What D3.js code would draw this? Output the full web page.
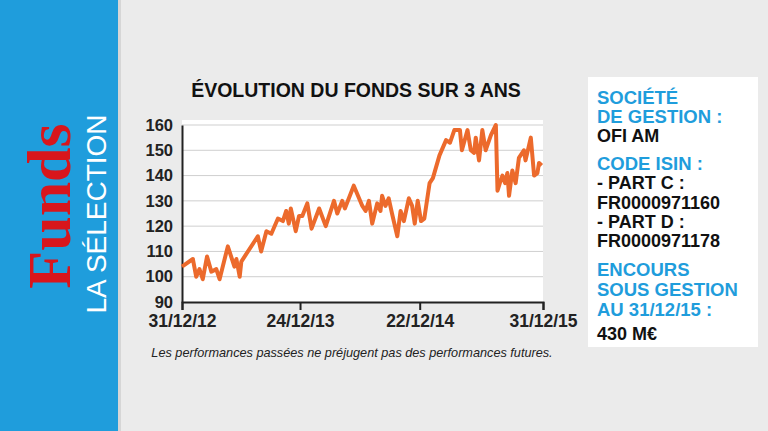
<!DOCTYPE html><html><head><meta charset="utf-8"><script src="https://cdn.jsdelivr.net/npm/d3@7"></script>
<style>body{margin:0;background:#ebebeb}svg{display:block}</style></head><body><svg id="c" width="768" height="431"></svg>
<script>
const dayOffsets=[0,33,43,53,63,76,89,104,114,139,159,165,175,180,230,240,256,271,291,306,316,324,330,345,355,365,380,393,416,436,461,471,486,494,521,547,557,567,577,592,602,607,617,627,637,653,663,673,688,698,706,715,725,735,751,761,781,801,813,826,843,849,866,876,886,891,901,911,921,937,952,957,964,972,980,987,992,1002,1012,1022,1037,1042,1058,1068,1078,1083,1091];
const navValues=[104,107,100,103,99,108,102,103,99,112,104,107,100,106,116,110,118,117,123,122,126,121,127,118,124,124,129,119,127,120,130,125,130,127,136,128,126,130,121,129,126,132,128,131,125,116,126,122,131,128,121,130,122,123,137,139,148,154,153,158,158,150,158,150,149,155,146,158,150,156,160,134,137,140,137,141,132,142,137,147,150,146,155,140,141,145,144];
const xTickLabels=["31/12/12","24/12/13","22/12/14","31/12/15"];
const xTickDays=[0,358,721,1095];
const yTicks=[90,100,110,120,130,140,150,160];
const svg=d3.select("#c");
svg.append("rect").attr("x",0).attr("y",0).attr("width",118).attr("height",431).attr("fill","#1f9ddc");
svg.append("rect").attr("x",118).attr("y",0).attr("width",3).attr("height",431).attr("fill","#d6d6d6");
svg.append("text").attr("transform","translate(70,206) rotate(-90)").attr("text-anchor","middle")
 .attr("font-family","Liberation Serif").attr("font-weight","bold").attr("font-size",62).attr("fill","#d8161c").text("Funds");
svg.append("text").attr("transform","translate(106,214) rotate(-90)").attr("text-anchor","middle")
 .attr("font-family","Liberation Sans").attr("font-size",28).attr("fill","#fff").text("LA SÉLECTION");
svg.append("text").attr("x",356).attr("y",97).attr("text-anchor","middle").attr("font-family","Liberation Sans")
 .attr("font-weight","bold").attr("font-size",19.5).attr("fill","#111").text("ÉVOLUTION DU FONDS SUR 3 ANS");
const x=d3.scaleLinear().domain([0,1095]).range([182,543]);
const y=d3.scaleLinear().domain([90,160]).range([302,125]);
svg.append("rect").attr("x",182).attr("y",120).attr("width",361).attr("height",182).attr("fill","#fff");
svg.append("g").selectAll("line").data(yTicks.slice(1)).join("line").attr("x1",182).attr("x2",543)
 .attr("y1",d=>y(d)).attr("y2",d=>y(d)).attr("stroke","#cfcfcf").attr("stroke-width",1);
const ya=svg.append("g").attr("transform","translate(182,0)").call(d3.axisLeft(y).tickValues(yTicks).tickSize(0).tickPadding(9));
ya.select(".domain").attr("stroke","#222").attr("stroke-width",2);
ya.selectAll("text").attr("font-family","Liberation Sans").attr("font-weight","bold").attr("font-size",16.5).attr("fill","#222");
const xa=svg.append("g").attr("transform","translate(0,302)").call(d3.axisBottom(x).tickValues(xTickDays).tickFormat((d,i)=>xTickLabels[i]).tickSize(8).tickPadding(5));
xa.select(".domain").attr("stroke","#222").attr("stroke-width",2);
xa.selectAll("line").attr("stroke","#222").attr("stroke-width",2);
xa.selectAll("text").attr("font-family","Liberation Sans").attr("font-weight","bold").attr("font-size",17.5).attr("fill","#222");
const pts=dayOffsets.map((d,i)=>[d,navValues[i]]);
svg.append("path").datum(pts).attr("d",d3.line().x(d=>x(d[0])).y(d=>y(d[1])))
 .attr("fill","none").attr("stroke","#ec6a2c").attr("stroke-width",4).attr("stroke-linejoin","round");
svg.append("text").attr("x",352).attr("y",357).attr("text-anchor","middle").attr("font-family","Liberation Sans")
 .attr("font-style","italic").attr("font-size",12.7).attr("fill","#222").text("Les performances passées ne préjugent pas des performances futures.");
svg.append("rect").attr("x",588).attr("y",77).attr("width",170).attr("height",270).attr("fill","#fff");
const info=[["SOCIÉTÉ",1],["DE GESTION :",1],["OFI AM",0],["CODE ISIN :",1],["- PART C :",0],["FR0000971160",0],["- PART D :",0],["FR0000971178",0],["ENCOURS",1],["SOUS GESTION",1],["AU 31/12/15 :",1],["430 M€",0]];
const ys=[104,123,142,170,189,209,228,247,276,296,316,340];
info.forEach((t,i)=>svg.append("text").attr("x",597).attr("y",ys[i]).attr("font-family","Liberation Sans")
 .attr("font-weight","bold").attr("font-size",t[1]?18.5:18).attr("fill",t[1]?"#1f9ddc":"#111").text(t[0]));
</script></body></html>
